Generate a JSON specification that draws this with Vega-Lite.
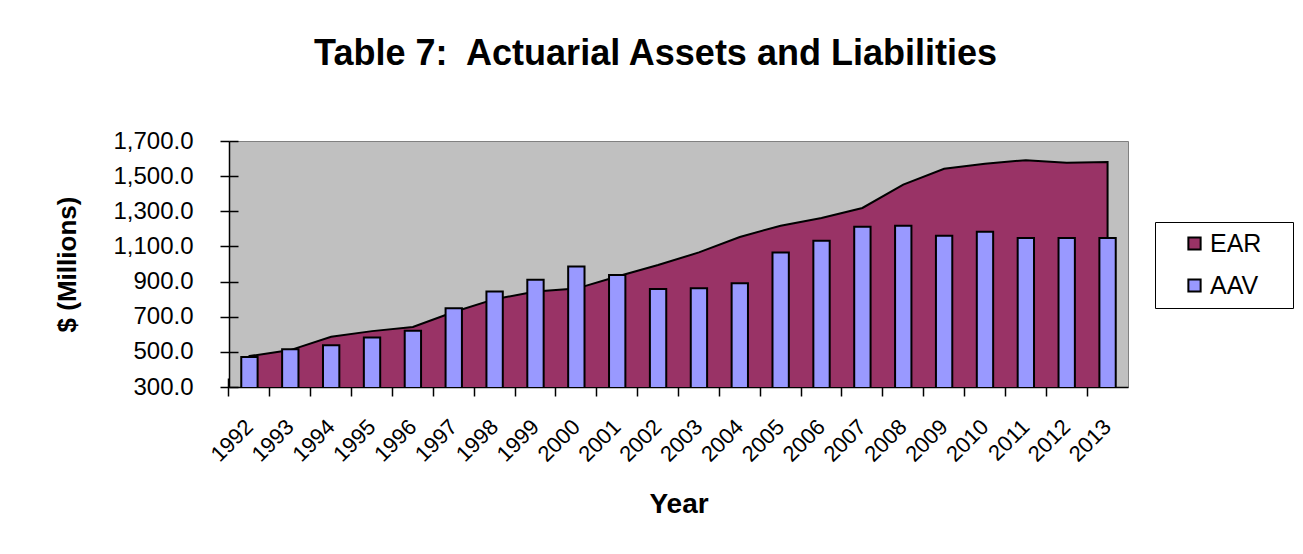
{
  "$schema": "https://vega.github.io/schema/vega-lite/v6.json",
  "autosize": {"type": "none"},
  "padding": {"left": 229, "top": 141, "right": 175, "bottom": 167},
  "width": 899,
  "height": 246,
  "background": "white",
  "title": {
    "text": "Table 7:\u00a0 Actuarial Assets and Liabilities",
    "font": "Liberation Sans",
    "fontSize": 36,
    "fontWeight": "bold",
    "color": "black",
    "anchor": "middle",
    "baseline": "alphabetic",
    "dx": -23,
    "offset": 28
  },
  "config": {
    "view": {"fill": "#C0C0C0", "stroke": "#808080", "strokeWidth": 1},
    "font": "Liberation Sans",
    "legend": {"symbolStrokeColor": "black", "symbolStrokeWidth": 2, "labelLimit": 400}
  },
  "data": {
    "values": [
      {"Year": "1992", "Series": "EAR", "Value": 476},
      {"Year": "1993", "Series": "EAR", "Value": 510},
      {"Year": "1994", "Series": "EAR", "Value": 586},
      {"Year": "1995", "Series": "EAR", "Value": 618},
      {"Year": "1996", "Series": "EAR", "Value": 642},
      {"Year": "1997", "Series": "EAR", "Value": 727},
      {"Year": "1998", "Series": "EAR", "Value": 800},
      {"Year": "1999", "Series": "EAR", "Value": 843},
      {"Year": "2000", "Series": "EAR", "Value": 860},
      {"Year": "2001", "Series": "EAR", "Value": 929},
      {"Year": "2002", "Series": "EAR", "Value": 994},
      {"Year": "2003", "Series": "EAR", "Value": 1066},
      {"Year": "2004", "Series": "EAR", "Value": 1154},
      {"Year": "2005", "Series": "EAR", "Value": 1218},
      {"Year": "2006", "Series": "EAR", "Value": 1262},
      {"Year": "2007", "Series": "EAR", "Value": 1319},
      {"Year": "2008", "Series": "EAR", "Value": 1452},
      {"Year": "2009", "Series": "EAR", "Value": 1542},
      {"Year": "2010", "Series": "EAR", "Value": 1571},
      {"Year": "2011", "Series": "EAR", "Value": 1591},
      {"Year": "2012", "Series": "EAR", "Value": 1576},
      {"Year": "2013", "Series": "EAR", "Value": 1580},
      {"Year": "1992", "Series": "AAV", "Value": 471},
      {"Year": "1993", "Series": "AAV", "Value": 515},
      {"Year": "1994", "Series": "AAV", "Value": 538},
      {"Year": "1995", "Series": "AAV", "Value": 582},
      {"Year": "1996", "Series": "AAV", "Value": 620},
      {"Year": "1997", "Series": "AAV", "Value": 748},
      {"Year": "1998", "Series": "AAV", "Value": 843},
      {"Year": "1999", "Series": "AAV", "Value": 910},
      {"Year": "2000", "Series": "AAV", "Value": 986},
      {"Year": "2001", "Series": "AAV", "Value": 938},
      {"Year": "2002", "Series": "AAV", "Value": 858},
      {"Year": "2003", "Series": "AAV", "Value": 862},
      {"Year": "2004", "Series": "AAV", "Value": 891},
      {"Year": "2005", "Series": "AAV", "Value": 1066},
      {"Year": "2006", "Series": "AAV", "Value": 1132},
      {"Year": "2007", "Series": "AAV", "Value": 1212},
      {"Year": "2008", "Series": "AAV", "Value": 1218},
      {"Year": "2009", "Series": "AAV", "Value": 1161},
      {"Year": "2010", "Series": "AAV", "Value": 1184},
      {"Year": "2011", "Series": "AAV", "Value": 1148},
      {"Year": "2012", "Series": "AAV", "Value": 1148},
      {"Year": "2013", "Series": "AAV", "Value": 1148}
    ]
  },
  "encoding": {
    "x": {
      "field": "Year",
      "type": "ordinal",
      "scale": {"type": "band", "paddingInner": 0, "paddingOuter": 0},
      "axis": {
        "orient": "bottom",
        "title": "Year",
        "titleFont": "Liberation Sans",
        "titleFontSize": 28,
        "titleFontWeight": "bold",
        "titleColor": "black",
        "titleY": 125,
        "titleBaseline": "alphabetic",
        "bandPosition": 0,
        "labelOffset": 0,
        "labelAngle": -45,
        "labelAlign": "right",
        "labelBaseline": "middle",
        "labelFont": "Liberation Sans",
        "labelFontSize": 22,
        "labelColor": "black",
        "labelPadding": 27,
        "tickSize": 9,
        "tickColor": "black",
        "tickWidth": 1.5,
        "domainColor": "black",
        "domainWidth": 1.5
      }
    },
    "y": {
      "field": "Value",
      "type": "quantitative",
      "scale": {"domain": [300, 1700], "nice": false, "zero": false},
      "axis": {
        "orient": "left",
        "title": "$ (Millions)",
        "titleFont": "Liberation Sans",
        "titleFontSize": 26,
        "titleFontWeight": "bold",
        "titleColor": "black",
        "titleX": -162,
        "titleY": 123,
        "titleAlign": "center",
        "titleBaseline": "middle",
        "values": [300, 500, 700, 900, 1100, 1300, 1500, 1700],
        "format": ",.1f",
        "labelFont": "Liberation Sans",
        "labelFontSize": 24,
        "labelColor": "black",
        "labelPadding": 27,
        "tickSize": 9,
        "tickColor": "black",
        "tickWidth": 1.5,
        "domainColor": "black",
        "domainWidth": 1.5,
        "grid": false
      }
    },
    "color": {
      "field": "Series",
      "type": "nominal",
      "scale": {"domain": ["EAR", "AAV"], "range": ["#993366", "#9999FF"]},
      "legend": {
        "title": "\u00a0",
        "titleOrient": "right",
        "titlePadding": 23,
        "titleFontSize": 25,
        "orient": "none",
        "legendX": 926,
        "legendY": 81,
        "direction": "vertical",
        "symbolType": "square",
        "symbolSize": 150,
        "symbolStrokeColor": "black",
        "symbolStrokeWidth": 2,
        "symbolOpacity": 1,
        "symbolOffset": 18,
        "labelFont": "Liberation Sans",
        "labelFontSize": 25,
        "labelColor": "black",
        "labelOffset": 3,
        "labelLimit": 400,
        "rowPadding": 16,
        "padding": 9,
        "strokeColor": "black",
        "fillColor": "white"
      }
    }
  },
  "layer": [
    {
      "transform": [{"filter": "datum.Series === 'EAR'"}],
      "mark": {"type": "area", "stroke": "black", "strokeWidth": 2, "opacity": 1, "line": false, "clip": true},
      "encoding": {"x": {"field": "Year", "type": "ordinal", "bandPosition": 0.5}}
    },
    {
      "transform": [{"filter": "datum.Series === 'AAV'"}],
      "mark": {"type": "bar", "stroke": "black", "strokeWidth": 2, "width": {"band": 0.4}, "clip": true},
      "encoding": {
        "x": {"field": "Year", "type": "ordinal", "axis": null},
        "y": {"field": "Value", "type": "quantitative", "axis": null}
      }
    },
    {
      "mark": {"type": "point", "opacity": 0},
      "encoding": {
        "color": {"value": "transparent"},
        "x": {
          "field": "Year",
          "type": "ordinal",
          "axis": {"orient": "bottom", "offset": -9, "bandPosition": 0, "labels": false, "domain": false, "title": null, "tickSize": 9, "tickColor": "black", "tickWidth": 1.5}
        },
        "y": {
          "field": "Value",
          "type": "quantitative",
          "axis": {"orient": "left", "offset": -9, "values": [300, 500, 700, 900, 1100, 1300, 1500, 1700], "labels": false, "domain": false, "title": null, "grid": false, "tickSize": 9, "tickColor": "black", "tickWidth": 1.5}
        }
      }
    }
  ],
  "resolve": {"axis": {"x": "independent", "y": "independent"}}
}
